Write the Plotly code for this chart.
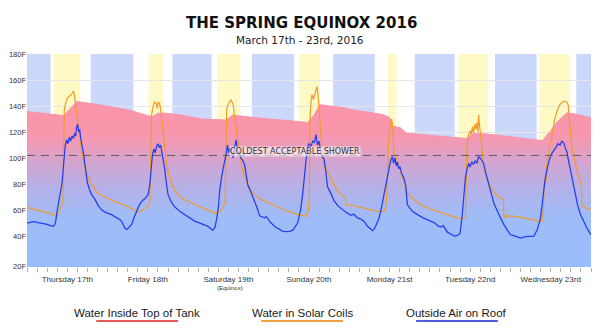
import plotly.graph_objects as go

# ---------------- data (hours since Thu 17 Mar 00:00, temperature in F) ----------------
tank_hours = [0, 5, 10, 11, 12.5, 14.8, 20, 25, 31, 36, 37.5, 39, 41, 46, 52, 55, 59.5, 61.2, 66, 72, 78, 83.6,
              85.5, 87.2, 92, 95.5, 96, 101, 106, 108, 109, 111.3, 113, 120, 126, 131, 132.5, 135, 141, 147,
              153.5, 156, 158, 160.8, 164, 168]
tank_temp = [135.8, 134.3, 132.8, 132.6, 137, 143.5, 141.5, 139.5, 136.5, 132.5, 132, 134.5, 134.6, 133, 130,
             129.5, 129.2, 133, 131.5, 130, 128.8, 127.3, 133, 141, 139.5, 138.3, 137.5, 135.5, 133.5, 131.2,
             124.5, 123.2, 119.2, 117.5, 116.3, 115, 118.5, 119, 117.3, 115.6, 113.4, 121, 128, 134.8, 133.5, 131]

coil_hours = [0, 2, 4, 6, 7.9, 8.5, 9, 9.6, 10.2, 10.7, 10.9, 11.1, 11.5, 12, 12.5, 13, 13.5, 13.9, 14.2, 14.5,
              15, 15.5, 16, 16.5, 17, 17.5, 18.3, 19, 20, 20.8, 22.3, 24, 25.2, 27, 28.2, 30, 31.5, 32.6, 33.1,
              34, 35, 36.1, 36.6, 36.8, 37.1, 37.6, 38, 38.5, 38.8, 39.1, 39.5, 40, 40.5, 41, 41.5, 42, 43, 44,
              45, 46.5, 48, 50, 52, 53.9, 55.5, 56.4, 57.5, 58.4, 59, 59.2, 59.5, 59.9, 60.3, 60.7, 61.1, 61.5,
              61.8, 62.3, 62.8, 63.3, 63.8, 64.3, 65, 65.8, 66.8, 67.8, 69, 70.7, 72, 74.7, 76.7, 79, 80.6,
              83.1, 83.8, 84.1, 84.3, 84.6, 84.9, 85.3, 85.7, 86.1, 86.4, 86.7, 87, 87.3, 87.7, 88.1, 88.6,
              89.5, 90.5, 91.5, 93, 94.8, 95.1, 97, 100, 102, 104.5, 106.4, 107, 107.3, 107.6, 108, 108.3,
              108.6, 108.9, 109.3, 109.7, 110.3, 111.3, 112.3, 113.3, 114.5, 115.5, 117.3, 119, 121, 123.2,
              125, 127, 128.1, 130, 130.6, 130.9, 131.1, 131.5, 132, 132.3, 132.7, 133, 133.4, 133.7, 134,
              134.3, 134.5, 134.8, 135.2, 135.6, 136, 136.6, 137.3, 138.2, 138.9, 140, 141.4, 141.9, 142.1,
              142.9, 144.5, 146, 148, 150, 152, 152.8, 153.5, 153.8, 154.1, 154.5, 154.8, 155.3, 155.7, 156.3,
              157.2, 158, 158.7, 159.5, 160.2, 160.8, 161.2, 161.5, 161.8, 162.2, 162.7, 163.3, 164.2, 165,
              165.2, 165.3, 166, 167, 168]
coil_temp = [62, 60.8, 59.5, 58, 56.5, 55.5, 56, 60, 64, 66, 100, 137, 142, 146, 147.5, 148, 150, 151.5, 147, 140,
             130, 120, 111, 102, 96, 90, 85.5, 81, 77, 73.5, 71, 69, 67, 65.5, 64.5, 62.5, 61, 59, 58.3,
             59.5, 61, 62.8, 66, 110, 133, 140, 143, 142, 138, 143, 142, 134, 120.5, 108, 97, 90, 81, 75,
             72, 68.5, 67, 64.5, 62, 60, 58, 57.5, 59, 62, 66, 110, 138, 141, 143, 145, 143, 140,
             132, 123, 112, 105, 96, 90, 84, 79.5, 75, 72, 69.5, 67, 65.5, 62, 60, 58, 56.5,
             55.2, 60, 70, 130, 143.6, 148.7, 145, 149, 152, 155, 148, 138, 128, 112, 100, 94,
             89, 84, 79.5, 73, 69.5, 64, 63.5, 61.5, 60.5, 59, 59, 65, 79.5, 108, 122, 128,
             130, 125, 104, 101, 98, 89, 82, 73, 70, 67.5, 64, 62, 60, 58,
             56.5, 55, 54, 53.5, 55, 90, 110, 118, 121, 118, 124, 119, 126, 122, 127,
             120, 133, 125, 113, 104, 95, 88, 82, 77, 74.3, 71.5, 68.5, 68, 54,
             55.5, 55.3, 55, 54, 53, 52, 51.3, 52, 60, 84, 80, 95, 103, 108, 117,
             130, 137, 141, 143, 143.8, 143, 141, 132, 120, 110, 103, 96, 87, 80.5,
             75, 63, 62, 61, 60]

air_hours = [0, 1, 2, 3, 4, 5, 6, 7, 7.9, 8.3, 8.6, 9, 9.6, 10, 10.4, 10.8, 11.1, 11.4, 11.8, 12.2, 12.6, 13,
             13.4, 13.8, 14.2, 14.5, 14.8, 15.1, 15.4, 15.7, 16, 16.4, 16.8, 17.2, 17.6, 18, 18.6, 19.2, 20.3,
             21.3, 22.3, 23.5, 25.2, 26.5, 28, 29.2, 29.8, 30.5, 31.2, 32, 32.6, 33.3, 34.1, 35.2, 36.1, 36.6,
             37, 37.4, 37.8, 38.2, 38.6, 39, 39.4, 39.8, 40.2, 40.6, 41, 41.5, 42, 43, 44, 45.5, 46.9, 48.4,
             49.9, 51.5, 53.9, 55, 55.4, 56, 56.5, 57, 57.4, 58, 58.5, 58.9, 59.3, 59.7, 60.1, 60.5, 60.9,
             61.4, 61.8, 62.3, 62.7, 63.2, 63.7, 64.3, 64.8, 65.3, 65.8, 66.5, 67.3, 68.5, 69.3, 70.8, 71.3,
             72.7, 74, 76.2, 78, 79.2, 80.6, 81.5, 82.1, 82.6, 83.1, 83.5, 84, 84.6, 85.1, 85.6, 86.1, 86.5,
             87, 87.5, 88, 88.5, 89, 89.5, 90.5, 91.5, 92.7, 94, 95.2, 96.5, 97.3, 98.4, 99.5, 100.5, 101.4,
             102.4, 102.9, 103.6, 104.3, 104.9, 105.6, 106.4, 107.1, 107.9, 108.3, 108.8, 109.2, 109.6, 110,
             110.3, 110.7, 111.1, 111.6, 112.2, 112.8, 113.3, 113.8, 114.8, 116.3, 118, 120.2, 121.5, 122.3,
             123.2, 124, 124.6, 125.2, 126, 127.2, 128.2, 129, 129.6, 130.1, 130.6, 131.1, 131.6, 132, 132.5,
             133, 133.5, 134, 134.5, 135, 135.5, 136, 136.7, 137.6, 138.3, 139.1, 140.5, 142, 143, 144, 145.5,
             147, 148.5, 150, 151, 152, 152.9, 153.4, 153.8, 154.3, 154.8, 155.5, 156.2, 156.8, 157.5, 158.2,
             158.8, 159.3, 159.8, 160.3, 160.8, 161.3, 161.8, 162.5, 163.3, 164, 164.8, 165.8, 166.8, 167.5, 168]
air_temp = [50, 50.5, 51, 50.5, 50, 50, 49, 48, 47.5, 49, 52, 60, 68, 75, 80, 92, 104, 110, 114, 111, 116, 113,
            117, 115, 119, 117, 124, 126, 120, 122, 115, 110, 104, 96, 86, 81, 76, 72, 68,
            63, 60, 58, 56.5, 54.5, 52, 46, 45, 47, 49, 55, 59, 63, 66.5, 69, 72, 80,
            92, 103, 107, 104, 109, 111, 108, 110, 104, 99, 92, 81, 72, 66, 62.5, 59, 56.5, 54,
            51.5, 50, 47.5, 45, 44.5, 47, 53, 62, 75, 86, 94, 98, 103, 110, 104, 108, 104,
            100, 108, 114, 106, 104, 100, 98, 95, 87, 79, 75, 70, 62, 55.5, 54, 55,
            50, 47, 43.6, 43.5, 44.5, 50, 60, 72, 85, 97, 108, 111, 109, 113, 112, 118, 110,
            113, 104, 101, 99, 90, 78, 73, 67, 63, 60, 58, 56, 57, 54, 53, 51, 47.5,
            45.5, 44, 46, 50, 54, 62, 72, 82, 92, 98, 101, 96, 100, 94,
            97, 92, 93, 88, 85, 79, 64, 62, 59, 56.5, 54, 51.5, 50, 48,
            47, 48, 45, 43, 42, 40, 40.5, 42, 55, 70, 85, 92, 96, 93, 97,
            95, 98, 96, 101, 100, 98, 96, 88, 80, 72, 65, 57, 49, 45, 41, 40,
            38.5, 39.5, 40, 40, 45, 53, 63, 74, 83, 90, 98, 103, 105, 108, 111,
            110, 113, 112, 108, 105, 98, 92, 82, 72, 64, 57, 51, 46, 43, 41]

night_bands = [(0, 7), (19, 31.7), (43.3, 55), (67, 79.5), (91.2, 103.6), (115.5, 127.4), (139.4, 151.8), (163.6, 168)]
sun_bands = [(8, 15.9), (36.2, 40.5), (56.6, 63.5), (81, 87.3), (107.5, 110.1), (128.5, 137.4), (152.6, 161.8)]

day_labels = ["Thursday 17th", "Friday 18th", "Saturday 19th", "Sunday 20th", "Monday 21st", "Tuesday 22nd", "Wednesday 23rd"]
day_ticks = [12, 36, 60, 84, 108, 132, 156]
y_ticks = [17, 40, 60, 80, 100, 120, 140, 160, 180]
y_labels = ["20F", "40F", "60F", "80F", "100F", "120F", "140F", "160F", "180F"]
shower_temp = 102

legend_names = ["Water Inside Top of Tank", "Water in Solar Coils", "Outside Air on Roof"]
legend_colors = ["#e8585a", "#f0a040", "#4a5ce0"]

# ---------------- figure ----------------
W, H = 600, 335
L, R, T, B = 25, 9, 54, 68
pw, ph = W - L - R, H - T - B


def px_x(px):
    return (px - L) / pw


def px_y(py):
    return (H - B - py) / ph


fig = go.Figure()

ymin, ymax = 16.2, 180
grad_lo, grad_hi = ymin, 146


def g(f):
    return (f - grad_lo) / (grad_hi - grad_lo)


fig.add_trace(go.Scatter(
    x=tank_hours, y=tank_temp, mode="lines", line=dict(color="#f995aa", width=1),
    fill="tozeroy",
    fillgradient=dict(type="vertical", start=grad_lo, stop=grad_hi,
                      colorscale=[[0, "#98bcfc"], [g(55), "#9fbcf8"], [g(75), "#b3b2ea"],
                                  [g(95), "#cfa6d2"], [g(110), "#ee9bb8"], [g(120), "#f996ac"], [1, "#fb94a9"]]),
    hoverinfo="skip", showlegend=False))

fig.add_trace(go.Scatter(x=coil_hours, y=coil_temp, mode="lines",
                         line=dict(color="#f39a2a", width=1.2), showlegend=False))
fig.add_trace(go.Scatter(x=air_hours, y=air_temp, mode="lines",
                         line=dict(color="#1f3ff0", width=1.25), showlegend=False))

shapes = []
for a, b in night_bands:
    shapes.append(dict(type="rect", xref="x", yref="y", x0=a, x1=b, y0=ymin, y1=ymax,
                       fillcolor="#ccd8fb", line=dict(width=0), layer="below"))
for a, b in sun_bands:
    shapes.append(dict(type="rect", xref="x", yref="y", x0=a, x1=b, y0=ymin, y1=ymax,
                       fillcolor="#fdfac6", line=dict(width=0), layer="below"))
shapes.append(dict(type="line", xref="x", yref="y", x0=0, x1=168, y0=shower_temp, y1=shower_temp,
                   line=dict(color="#5a5a5a", width=1, dash="8px,6px"), layer="above"))

legend_centers = [135.5, 301, 456.5]
annotations = [
    dict(text="<b>THE SPRING EQUINOX 2016</b>", x=px_x(300), y=px_y(23), xref="paper", yref="paper",
         showarrow=False, font=dict(family="DejaVu Sans", size=15, color="#111"), xanchor="center", yanchor="middle"),
    dict(text="March 17th - 23rd, 2016", x=px_x(299), y=px_y(40), xref="paper", yref="paper",
         showarrow=False, font=dict(family="DejaVu Sans", size=10.5, color="#222"), xanchor="center", yanchor="middle"),
    dict(text="COLDEST ACCEPTABLE SHOWER", x=79.8, y=105.2, xref="x", yref="y", showarrow=False,
         font=dict(family="DejaVu Sans", size=8, color="#333"), bgcolor="rgba(255,255,255,0.6)",
         borderpad=0, xanchor="center", yanchor="middle"),
    dict(text="(Equinox)", x=60.4, y=px_y(287.5), xref="x", yref="paper", showarrow=False,
         font=dict(family="Liberation Sans", size=6, color="#333"), xanchor="center", yanchor="middle"),
]
for name, col, cx in zip(legend_names, legend_colors, legend_centers):
    annotations.append(dict(text=name, x=px_x(cx), y=px_y(313), xref="paper", yref="paper", showarrow=False,
                            font=dict(family="Liberation Sans", size=11.5, color="#1a1a1a"),
                            xanchor="center", yanchor="middle"))
    shapes.append(dict(type="line", xref="paper", yref="paper", x0=px_x(cx - 41), x1=px_x(cx + 41),
                       y0=px_y(321), y1=px_y(321), line=dict(color=col, width=2)))

fig.update_layout(
    width=W, height=H, margin=dict(l=L, r=R, t=T, b=B),
    paper_bgcolor="white", plot_bgcolor="white",
    shapes=shapes, annotations=annotations, showlegend=False,
    xaxis=dict(range=[0, 168], tickmode="array", tickvals=day_ticks, ticktext=day_labels,
               ticks="outside", ticklen=4, tickcolor="#b0b0b0", showgrid=False, zeroline=False,
               showline=False, tickfont=dict(family="Liberation Sans", size=8, color="#333"),
               minor=dict(tickmode="linear", tick0=0, dtick=3, ticks="outside", ticklen=4,
                          tickcolor="#b0b0b0", showgrid=False)),
    yaxis=dict(range=[ymin, ymax], tickmode="array", tickvals=y_ticks, ticktext=y_labels,
               showgrid=True, gridcolor="#e6e6e6", gridwidth=1, zeroline=False, showline=False,
               ticks="", tickfont=dict(family="Liberation Sans", size=7.5, color="#333")),
)

fig.write_html("out.html")
